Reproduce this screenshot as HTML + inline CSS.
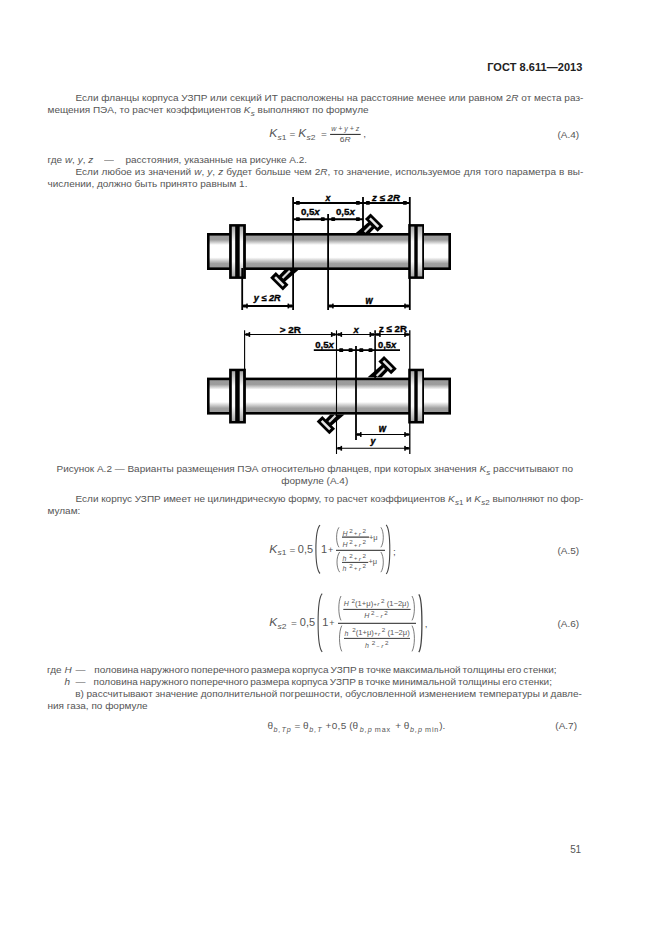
<!DOCTYPE html>
<html><head><meta charset="utf-8"><style>
html,body{margin:0;padding:0;background:#fff;}
body{width:661px;height:935px;position:relative;overflow:hidden;font-family:"Liberation Sans", sans-serif;color:#555;}
.t{position:absolute;white-space:nowrap;}
.d{position:absolute;left:0;top:0;}
sub{font-size:8px;vertical-align:baseline;position:relative;top:2.6px;margin-left:0.3px;}
sup{font-size:7px;vertical-align:baseline;position:relative;top:-4px;}
i{font-style:italic;}
</style></head><body>
<svg class="d" width="661" height="935" viewBox="0 0 661 935" font-family="Liberation Sans, sans-serif"><defs>
<linearGradient id="pg" x1="0" y1="0" x2="0" y2="1">
<stop offset="0" stop-color="#9a9a9a"/><stop offset="0.16" stop-color="#9c9c9c"/>
<stop offset="0.31" stop-color="#ffffff"/><stop offset="0.67" stop-color="#ffffff"/>
<stop offset="0.85" stop-color="#a0a0a0"/><stop offset="1" stop-color="#989898"/>
</linearGradient>
<linearGradient id="fg" x1="0" y1="0" x2="0" y2="1">
<stop offset="0" stop-color="#a8a8a8"/><stop offset="0.3" stop-color="#f8f8f8"/>
<stop offset="0.7" stop-color="#f8f8f8"/><stop offset="1" stop-color="#a8a8a8"/>
</linearGradient>
</defs><rect x="208.3" y="234.30" width="241.4" height="34.4" fill="url(#pg)" stroke="#000" stroke-width="2.6"/>
<rect x="229.10" y="224.10" width="16.80" height="54.80" fill="#000"/>
<rect x="231.80" y="226.60" width="3.40" height="49.80" fill="url(#fg)"/>
<rect x="239.70" y="226.60" width="3.40" height="49.80" fill="url(#fg)"/>
<rect x="408.20" y="224.10" width="15.80" height="54.80" fill="#000"/>
<rect x="410.80" y="226.60" width="3.50" height="49.80" fill="url(#fg)"/>
<rect x="417.70" y="226.60" width="4.50" height="49.80" fill="url(#fg)"/>
<line x1="293.10" y1="197.00" x2="293.10" y2="310.00" stroke="#000" stroke-width="1.8"/>
<line x1="363.00" y1="197.00" x2="363.00" y2="234.00" stroke="#000" stroke-width="1.8"/>
<line x1="328.10" y1="214.00" x2="328.10" y2="310.00" stroke="#000" stroke-width="1.8"/>
<line x1="409.80" y1="197.00" x2="409.80" y2="225.00" stroke="#000" stroke-width="1.8"/>
<line x1="409.80" y1="278.00" x2="409.80" y2="310.00" stroke="#000" stroke-width="1.8"/>
<line x1="242.20" y1="268.00" x2="242.20" y2="310.00" stroke="#000" stroke-width="1.8"/>
<line x1="293.00" y1="202.90" x2="409.80" y2="202.90" stroke="#000" stroke-width="2.0"/>
<line x1="293.00" y1="219.15" x2="363.00" y2="219.15" stroke="#000" stroke-width="2.0"/>
<line x1="242.20" y1="306.00" x2="293.10" y2="306.00" stroke="#000" stroke-width="2.0"/>
<line x1="328.10" y1="306.00" x2="409.80" y2="306.00" stroke="#000" stroke-width="2.0"/>
<rect x="295.90" y="201.00" width="4" height="3.8" rx="0.7" fill="#000"/>
<rect x="355.90" y="201.00" width="4" height="3.8" rx="0.7" fill="#000"/>
<rect x="365.90" y="201.00" width="4" height="3.8" rx="0.7" fill="#000"/>
<rect x="402.90" y="201.00" width="4" height="3.8" rx="0.7" fill="#000"/>
<rect x="295.90" y="217.25" width="4" height="3.8" rx="0.7" fill="#000"/>
<rect x="320.80" y="217.25" width="4" height="3.8" rx="0.7" fill="#000"/>
<rect x="331.20" y="217.25" width="4" height="3.8" rx="0.7" fill="#000"/>
<rect x="355.90" y="217.25" width="4" height="3.8" rx="0.7" fill="#000"/>
<rect x="243.20" y="304.50" width="3.60" height="3.00" fill="#000"/><rect x="246.20" y="303.60" width="1.60" height="4.80" fill="#000"/>
<rect x="288.50" y="304.50" width="3.60" height="3.00" fill="#000"/><rect x="287.50" y="303.60" width="1.60" height="4.80" fill="#000"/>
<rect x="329.10" y="304.50" width="3.60" height="3.00" fill="#000"/><rect x="332.10" y="303.60" width="1.60" height="4.80" fill="#000"/>
<rect x="405.20" y="304.50" width="3.60" height="3.00" fill="#000"/><rect x="404.20" y="303.60" width="1.60" height="4.80" fill="#000"/>
<g transform="translate(363.50,233.20) rotate(-45)">
<polygon points="-5.6,-5.6 11.50,-4.3 11.50,4.3 4.4,4.4" fill="#000"/>
<rect x="11.00" y="-9.00" width="8.00" height="18.00" fill="#000"/>
<rect x="13.75" y="-6" width="2.5" height="12" fill="#e6e6e6"/>
<rect x="1.6" y="-1.05" width="8.80" height="2.1" fill="#d9d9d9"/>
</g>
<g transform="translate(291.00,269.60) rotate(135)">
<polygon points="-5.6,-5.6 13.00,-4.3 13.00,4.3 4.4,4.4" fill="#000"/>
<rect x="12.50" y="-9.00" width="8.00" height="18.00" fill="#000"/>
<rect x="15.25" y="-6" width="2.5" height="12" fill="#e6e6e6"/>
<rect x="1.6" y="-1.05" width="10.30" height="2.1" fill="#d9d9d9"/>
</g>
<text x="325.40" y="200.80" font-size="8.82" transform="translate(0,-5.396) scale(1,1.027)" font-weight="bold" font-style="italic" fill="#000" stroke="#000" stroke-width="0.35">x</text>
<text x="372.05" y="200.90" font-size="9.69" transform="translate(0,16.013) scale(1,0.920)" font-weight="bold" font-style="italic" fill="#000" stroke="#000" stroke-width="0.35">z ≤ 2R</text>
<text x="300.90" y="215.40" font-size="9.67" transform="translate(0,25.873) scale(1,0.880)" font-weight="bold" fill="#000" stroke="#000" stroke-width="0.35">0,5<tspan font-style="italic">x</tspan></text>
<text x="336.00" y="215.40" font-size="9.67" transform="translate(0,25.873) scale(1,0.880)" font-weight="bold" fill="#000" stroke="#000" stroke-width="0.35">0,5<tspan font-style="italic">x</tspan></text>
<text x="253.71" y="301.30" font-size="9.21" transform="translate(0,14.180) scale(1,0.953)" font-weight="bold" font-style="italic" fill="#000" stroke="#000" stroke-width="0.35">y ≤ 2R</text>
<text x="365.40" y="303.50" font-size="9.10" transform="translate(0,-30.593) scale(1,1.101)" font-weight="bold" font-style="italic" fill="#000" stroke="#000" stroke-width="0.35">w</text>
<rect x="208.3" y="378.90" width="241.4" height="34.4" fill="url(#pg)" stroke="#000" stroke-width="2.6"/>
<rect x="229.10" y="368.70" width="16.80" height="54.80" fill="#000"/>
<rect x="231.80" y="371.20" width="3.40" height="49.80" fill="url(#fg)"/>
<rect x="239.70" y="371.20" width="3.40" height="49.80" fill="url(#fg)"/>
<rect x="408.20" y="368.70" width="15.80" height="54.80" fill="#000"/>
<rect x="410.80" y="371.20" width="3.50" height="49.80" fill="url(#fg)"/>
<rect x="417.70" y="371.20" width="4.50" height="49.80" fill="url(#fg)"/>
<line x1="244.60" y1="330.30" x2="244.60" y2="370.00" stroke="#000" stroke-width="1.1"/>
<line x1="336.50" y1="330.30" x2="336.50" y2="454.00" stroke="#000" stroke-width="1.1"/>
<line x1="375.10" y1="330.30" x2="375.10" y2="378.00" stroke="#000" stroke-width="1.6"/>
<line x1="409.80" y1="330.30" x2="409.80" y2="370.00" stroke="#000" stroke-width="1.3"/>
<line x1="409.80" y1="422.00" x2="409.80" y2="454.00" stroke="#000" stroke-width="1.3"/>
<line x1="356.00" y1="346.00" x2="356.00" y2="440.00" stroke="#000" stroke-width="1.8"/>
<line x1="244.60" y1="334.50" x2="409.80" y2="334.50" stroke="#000" stroke-width="1.1"/>
<rect x="245.60" y="333.20" width="3.60" height="2.60" fill="#000"/><rect x="248.60" y="332.10" width="1.60" height="4.80" fill="#000"/>
<rect x="331.90" y="333.20" width="3.60" height="2.60" fill="#000"/><rect x="330.90" y="332.10" width="1.60" height="4.80" fill="#000"/>
<rect x="337.50" y="333.20" width="3.60" height="2.60" fill="#000"/><rect x="340.50" y="332.10" width="1.60" height="4.80" fill="#000"/>
<rect x="370.50" y="333.20" width="3.60" height="2.60" fill="#000"/><rect x="369.50" y="332.10" width="1.60" height="4.80" fill="#000"/>
<rect x="376.10" y="333.20" width="3.60" height="2.60" fill="#000"/><rect x="379.10" y="332.10" width="1.60" height="4.80" fill="#000"/>
<rect x="405.20" y="333.20" width="3.60" height="2.60" fill="#000"/><rect x="404.20" y="332.10" width="1.60" height="4.80" fill="#000"/>
<line x1="313.80" y1="350.20" x2="400.00" y2="350.20" stroke="#000" stroke-width="1.7"/>
<rect x="339.20" y="348.30" width="4" height="3.8" rx="0.7" fill="#000"/>
<rect x="348.60" y="348.30" width="4" height="3.8" rx="0.7" fill="#000"/>
<rect x="359.30" y="348.30" width="4" height="3.8" rx="0.7" fill="#000"/>
<rect x="368.50" y="348.30" width="4" height="3.8" rx="0.7" fill="#000"/>
<line x1="356.00" y1="434.50" x2="409.80" y2="434.50" stroke="#000" stroke-width="1.1"/>
<rect x="357.00" y="433.20" width="3.60" height="2.60" fill="#000"/><rect x="360.00" y="432.10" width="1.60" height="4.80" fill="#000"/>
<rect x="405.20" y="433.20" width="3.60" height="2.60" fill="#000"/><rect x="404.20" y="432.10" width="1.60" height="4.80" fill="#000"/>
<line x1="336.50" y1="448.30" x2="409.80" y2="448.30" stroke="#000" stroke-width="1.1"/>
<rect x="337.50" y="447.00" width="3.60" height="2.60" fill="#000"/><rect x="340.50" y="445.90" width="1.60" height="4.80" fill="#000"/>
<rect x="405.20" y="447.00" width="3.60" height="2.60" fill="#000"/><rect x="404.20" y="445.90" width="1.60" height="4.80" fill="#000"/>
<g transform="translate(375.50,377.20) rotate(-45)">
<polygon points="-5.6,-5.6 13.60,-4.3 13.60,4.3 4.4,4.4" fill="#000"/>
<rect x="13.10" y="-9.00" width="8.00" height="18.00" fill="#000"/>
<rect x="15.85" y="-6" width="2.5" height="12" fill="#e6e6e6"/>
<rect x="1.6" y="-1.05" width="10.90" height="2.1" fill="#d9d9d9"/>
</g>
<g transform="translate(336.60,414.40) rotate(135)">
<polygon points="-5.6,-5.6 11.70,-4.3 11.70,4.3 4.4,4.4" fill="#000"/>
<rect x="11.20" y="-9.00" width="8.00" height="18.00" fill="#000"/>
<rect x="13.95" y="-6" width="2.5" height="12" fill="#e6e6e6"/>
<rect x="1.6" y="-1.05" width="9.00" height="2.1" fill="#d9d9d9"/>
</g>
<text x="279.80" y="332.70" font-size="9.91" transform="translate(0,14.828) scale(1,0.955)" font-weight="bold" fill="#000" stroke="#000" stroke-width="0.35">&gt; 2R</text>
<text x="353.43" y="332.70" font-size="9.45" transform="translate(0,7.051) scale(1,0.979)" font-weight="bold" font-style="italic" fill="#000" stroke="#000" stroke-width="0.35">x</text>
<text x="379.00" y="332.30" font-size="9.71" transform="translate(0,8.229) scale(1,0.975)" font-weight="bold" fill="#000" stroke="#000" stroke-width="0.35">z ≤ 2R</text>
<text x="315.20" y="347.90" font-size="9.56" transform="translate(0,8.554) scale(1,0.975)" font-weight="bold" fill="#000" stroke="#000" stroke-width="0.35">0,5<tspan font-style="italic">x</tspan></text>
<text x="378.00" y="347.90" font-size="9.36" transform="translate(0,1.096) scale(1,0.997)" font-weight="bold" fill="#000" stroke="#000" stroke-width="0.35">0,5<tspan font-style="italic">x</tspan></text>
<text x="378.70" y="431.60" font-size="9.34" transform="translate(0,-93.640) scale(1,1.217)" font-weight="bold" font-style="italic" fill="#000" stroke="#000" stroke-width="0.35">w</text>
<text x="370.50" y="444.50" font-size="8.99" transform="translate(0,-3.145) scale(1,1.007)" font-weight="bold" font-style="italic" fill="#000" stroke="#000" stroke-width="0.35">y</text></svg><svg class="d" width="661" height="935" viewBox="0 0 661 935" font-family="Liberation Sans, sans-serif" fill="#555"><text x="269.30" y="136.70" font-size="12" text-anchor="start" transform="translate(0,10.936) scale(1,0.92)" font-style="italic">K</text>
<text x="277.60" y="139.90" font-size="8.5" text-anchor="start" transform="translate(0,11.192) scale(1,0.92)" ><tspan font-style="italic">s</tspan>1</text>
<text x="289.60" y="136.70" font-size="10" text-anchor="start" transform="translate(0,10.936) scale(1,0.92)" >=</text>
<text x="298.20" y="136.70" font-size="12" text-anchor="start" transform="translate(0,10.936) scale(1,0.92)" font-style="italic">K</text>
<text x="306.60" y="139.90" font-size="8.5" text-anchor="start" transform="translate(0,11.192) scale(1,0.92)" ><tspan font-style="italic">s</tspan>2</text>
<text x="320.90" y="136.70" font-size="10" text-anchor="start" transform="translate(0,10.936) scale(1,0.92)" >=</text>
<line x1="330.10" y1="134.40" x2="360.70" y2="134.40" stroke="#222" stroke-width="1.0"/>
<text x="331.20" y="131.20" font-size="7" text-anchor="start" transform="translate(0,10.496) scale(1,0.92)" font-style="italic">w + y + z</text>
<text x="339.80" y="142.00" font-size="8.5" text-anchor="start" transform="translate(0,11.360) scale(1,0.92)" >6<tspan font-style="italic">R</tspan></text>
<text x="363.20" y="136.60" font-size="10" text-anchor="start" transform="translate(0,10.928) scale(1,0.92)" >,</text>
<text x="269.30" y="553.20" font-size="12" text-anchor="start" transform="translate(0,44.256) scale(1,0.92)" font-style="italic">K</text>
<text x="277.40" y="555.40" font-size="8.5" text-anchor="start" transform="translate(0,44.432) scale(1,0.92)" ><tspan font-style="italic">s</tspan>1</text>
<text x="289.40" y="553.20" font-size="10" text-anchor="start" transform="translate(0,44.256) scale(1,0.92)" >=</text>
<text x="297.80" y="553.20" font-size="11" text-anchor="start" transform="translate(0,44.256) scale(1,0.92)" >0,5</text>
<path d="M320.00,525.20 C314.53,531.00 314.53,567.70 320.00,573.50" fill="none" stroke="#444" stroke-width="1.1"/>
<text x="320.90" y="553.20" font-size="11" text-anchor="start" transform="translate(0,44.256) scale(1,0.92)" >1</text>
<text x="328.00" y="552.60" font-size="9" text-anchor="start" transform="translate(0,44.208) scale(1,0.92)" >+</text>
<line x1="336.00" y1="550.30" x2="385.00" y2="550.30" stroke="#222" stroke-width="1.0"/>
<path d="M339.00,527.30 C335.80,531.70 335.80,542.90 339.00,547.30" fill="none" stroke="#444" stroke-width="0.7"/>
<path d="M380.90,527.30 C384.10,531.70 384.10,542.90 380.90,547.30" fill="none" stroke="#444" stroke-width="0.7"/>
<line x1="342.00" y1="537.10" x2="369.10" y2="537.10" stroke="#222" stroke-width="1.1"/>
<text x="342.40" y="536.00" font-size="7" text-anchor="start" transform="translate(0,42.880) scale(1,0.92)" font-style="italic">H</text>
<text x="349.20" y="532.70" font-size="6.3" text-anchor="start" transform="translate(0,42.616) scale(1,0.92)" >2</text>
<text x="353.90" y="535.40" font-size="5.5" text-anchor="start" transform="translate(0,42.832) scale(1,0.92)" >+</text>
<text x="358.70" y="536.00" font-size="6.8" text-anchor="start" transform="translate(0,42.880) scale(1,0.92)" font-style="italic">r</text>
<text x="362.50" y="532.70" font-size="6.3" text-anchor="start" transform="translate(0,42.616) scale(1,0.92)" >2</text>
<text x="342.40" y="547.50" font-size="7" text-anchor="start" transform="translate(0,43.800) scale(1,0.92)" font-style="italic">H</text>
<text x="349.20" y="544.20" font-size="6.3" text-anchor="start" transform="translate(0,43.536) scale(1,0.92)" >2</text>
<text x="353.90" y="546.90" font-size="5.5" text-anchor="start" transform="translate(0,43.752) scale(1,0.92)" >+</text>
<text x="358.70" y="547.50" font-size="6.8" text-anchor="start" transform="translate(0,43.800) scale(1,0.92)" font-style="italic">r</text>
<text x="362.50" y="544.20" font-size="6.3" text-anchor="start" transform="translate(0,43.536) scale(1,0.92)" >2</text>
<text x="369.00" y="540.40" font-size="7.5" text-anchor="start" transform="translate(0,43.232) scale(1,0.92)" >+μ</text>
<path d="M339.70,552.00 C336.10,556.44 336.10,567.76 339.70,572.20" fill="none" stroke="#444" stroke-width="0.7"/>
<path d="M380.90,552.00 C384.10,556.44 384.10,567.76 380.90,572.20" fill="none" stroke="#444" stroke-width="0.7"/>
<line x1="342.00" y1="562.40" x2="368.20" y2="562.40" stroke="#222" stroke-width="0.9"/>
<text x="342.40" y="560.90" font-size="7" text-anchor="start" transform="translate(0,44.872) scale(1,0.92)" font-style="italic">h</text>
<text x="349.20" y="557.60" font-size="6.3" text-anchor="start" transform="translate(0,44.608) scale(1,0.92)" >2</text>
<text x="353.90" y="560.30" font-size="5.5" text-anchor="start" transform="translate(0,44.824) scale(1,0.92)" >+</text>
<text x="358.70" y="560.90" font-size="6.8" text-anchor="start" transform="translate(0,44.872) scale(1,0.92)" font-style="italic">r</text>
<text x="362.50" y="557.60" font-size="6.3" text-anchor="start" transform="translate(0,44.608) scale(1,0.92)" >2</text>
<text x="342.40" y="571.10" font-size="7" text-anchor="start" transform="translate(0,45.688) scale(1,0.92)" font-style="italic">h</text>
<text x="349.20" y="567.80" font-size="6.3" text-anchor="start" transform="translate(0,45.424) scale(1,0.92)" >2</text>
<text x="353.90" y="570.50" font-size="5.5" text-anchor="start" transform="translate(0,45.640) scale(1,0.92)" >+</text>
<text x="358.70" y="571.10" font-size="6.8" text-anchor="start" transform="translate(0,45.688) scale(1,0.92)" font-style="italic">r</text>
<text x="362.50" y="567.80" font-size="6.3" text-anchor="start" transform="translate(0,45.424) scale(1,0.92)" >2</text>
<text x="368.50" y="564.50" font-size="7.5" text-anchor="start" transform="translate(0,45.160) scale(1,0.92)" >+μ</text>
<path d="M386.20,524.80 C391.00,530.70 391.00,568.10 386.20,574.00" fill="none" stroke="#444" stroke-width="1.1"/>
<text x="393.00" y="554.80" font-size="10" text-anchor="start" transform="translate(0,44.384) scale(1,0.92)" >;</text>
<text x="269.30" y="626.20" font-size="12" text-anchor="start" transform="translate(0,50.096) scale(1,0.92)" font-style="italic">K</text>
<text x="277.40" y="628.60" font-size="8.5" text-anchor="start" transform="translate(0,50.288) scale(1,0.92)" ><tspan font-style="italic">s</tspan>2</text>
<text x="291.00" y="626.20" font-size="10" text-anchor="start" transform="translate(0,50.096) scale(1,0.92)" >=</text>
<text x="299.80" y="626.20" font-size="11" text-anchor="start" transform="translate(0,50.096) scale(1,0.92)" >0,5</text>
<path d="M322.20,593.60 C316.73,599.42 316.73,645.98 322.20,651.80" fill="none" stroke="#444" stroke-width="1.1"/>
<text x="322.20" y="626.20" font-size="11" text-anchor="start" transform="translate(0,50.096) scale(1,0.92)" >1</text>
<text x="329.20" y="625.60" font-size="9" text-anchor="start" transform="translate(0,50.048) scale(1,0.92)" >+</text>
<line x1="338.00" y1="623.30" x2="416.00" y2="623.30" stroke="#222" stroke-width="1.0"/>
<path d="M341.00,596.00 C338.07,601.37 338.07,615.03 341.00,620.40" fill="none" stroke="#444" stroke-width="0.7"/>
<path d="M412.00,596.00 C415.20,601.37 415.20,615.03 412.00,620.40" fill="none" stroke="#444" stroke-width="0.7"/>
<line x1="343.30" y1="609.40" x2="410.60" y2="609.40" stroke="#222" stroke-width="0.9"/>
<text x="343.80" y="606.20" font-size="7" text-anchor="start" transform="translate(0,48.496) scale(1,0.92)" font-style="italic">H</text>
<text x="351.50" y="602.90" font-size="6.3" text-anchor="start" transform="translate(0,48.232) scale(1,0.92)" >2</text>
<text x="355.10" y="605.90" font-size="7.6" text-anchor="start" transform="translate(0,48.472) scale(1,0.92)" >(1+μ)</text>
<text x="373.50" y="605.60" font-size="5.5" text-anchor="start" transform="translate(0,48.448) scale(1,0.92)" >+</text>
<text x="377.30" y="606.20" font-size="6.8" text-anchor="start" transform="translate(0,48.496) scale(1,0.92)" font-style="italic">r</text>
<text x="381.10" y="602.90" font-size="6.3" text-anchor="start" transform="translate(0,48.232) scale(1,0.92)" >2</text>
<text x="386.70" y="605.90" font-size="7.6" text-anchor="start" transform="translate(0,48.472) scale(1,0.92)" >(1−2μ)</text>
<text x="364.20" y="618.30" font-size="7" text-anchor="start" transform="translate(0,49.464) scale(1,0.92)" font-style="italic">H</text>
<text x="371.00" y="615.00" font-size="6.3" text-anchor="start" transform="translate(0,49.200) scale(1,0.92)" >2</text>
<text x="375.70" y="617.70" font-size="5.5" text-anchor="start" transform="translate(0,49.416) scale(1,0.92)" >−</text>
<text x="380.50" y="618.30" font-size="6.8" text-anchor="start" transform="translate(0,49.464) scale(1,0.92)" font-style="italic">r</text>
<text x="384.30" y="615.00" font-size="6.3" text-anchor="start" transform="translate(0,49.200) scale(1,0.92)" >2</text>
<path d="M341.80,625.60 C338.73,631.28 338.73,645.72 341.80,651.40" fill="none" stroke="#444" stroke-width="0.7"/>
<path d="M412.00,625.60 C415.20,631.28 415.20,645.72 412.00,651.40" fill="none" stroke="#444" stroke-width="0.7"/>
<line x1="344.00" y1="638.40" x2="410.00" y2="638.40" stroke="#222" stroke-width="0.9"/>
<text x="344.50" y="635.70" font-size="7" text-anchor="start" transform="translate(0,50.856) scale(1,0.92)" font-style="italic">h</text>
<text x="352.20" y="632.40" font-size="6.3" text-anchor="start" transform="translate(0,50.592) scale(1,0.92)" >2</text>
<text x="355.80" y="635.40" font-size="7.6" text-anchor="start" transform="translate(0,50.832) scale(1,0.92)" >(1+μ)</text>
<text x="374.20" y="635.10" font-size="5.5" text-anchor="start" transform="translate(0,50.808) scale(1,0.92)" >+</text>
<text x="378.00" y="635.70" font-size="6.8" text-anchor="start" transform="translate(0,50.856) scale(1,0.92)" font-style="italic">r</text>
<text x="381.80" y="632.40" font-size="6.3" text-anchor="start" transform="translate(0,50.592) scale(1,0.92)" >2</text>
<text x="387.40" y="635.40" font-size="7.6" text-anchor="start" transform="translate(0,50.832) scale(1,0.92)" >(1−2μ)</text>
<text x="365.00" y="648.50" font-size="7" text-anchor="start" transform="translate(0,51.880) scale(1,0.92)" font-style="italic">h</text>
<text x="371.80" y="645.20" font-size="6.3" text-anchor="start" transform="translate(0,51.616) scale(1,0.92)" >2</text>
<text x="376.50" y="647.90" font-size="5.5" text-anchor="start" transform="translate(0,51.832) scale(1,0.92)" >−</text>
<text x="381.30" y="648.50" font-size="6.8" text-anchor="start" transform="translate(0,51.880) scale(1,0.92)" font-style="italic">r</text>
<text x="385.10" y="645.20" font-size="6.3" text-anchor="start" transform="translate(0,51.616) scale(1,0.92)" >2</text>
<path d="M418.80,594.40 C422.93,600.18 422.93,646.42 418.80,652.20" fill="none" stroke="#444" stroke-width="1.3"/>
<text x="424.80" y="627.00" font-size="10" text-anchor="start" transform="translate(0,50.160) scale(1,0.92)" >,</text>
<text x="267.40" y="729.00" font-size="10" text-anchor="start" transform="translate(0,58.320) scale(1,0.92)" >θ</text>
<text x="273.40" y="732.00" font-size="7.2" text-anchor="start" transform="translate(0,58.560) scale(1,0.92)" letter-spacing="1.0" font-style="italic">b,Tp</text>
<text x="294.60" y="729.00" font-size="10" text-anchor="start" transform="translate(0,58.320) scale(1,0.92)" >=</text>
<text x="303.10" y="729.00" font-size="10" text-anchor="start" transform="translate(0,58.320) scale(1,0.92)" >θ</text>
<text x="309.30" y="732.00" font-size="7.2" text-anchor="start" transform="translate(0,58.560) scale(1,0.92)" letter-spacing="1.0" font-style="italic">b,T</text>
<text x="325.60" y="729.00" font-size="10" text-anchor="start" transform="translate(0,58.320) scale(1,0.92)" letter-spacing="0.3" >+0,5</text>
<text x="349.30" y="729.00" font-size="10" text-anchor="start" transform="translate(0,58.320) scale(1,0.92)" >(θ</text>
<text x="359.80" y="732.40" font-size="7.2" text-anchor="start" transform="translate(0,58.592) scale(1,0.92)" letter-spacing="1.0" font-style="italic">b,p</text>
<text x="374.80" y="732.40" font-size="7.2" text-anchor="start" transform="translate(0,58.592) scale(1,0.92)" letter-spacing="0.9" >max</text>
<text x="395.20" y="729.00" font-size="10" text-anchor="start" transform="translate(0,58.320) scale(1,0.92)" >+</text>
<text x="403.80" y="729.00" font-size="10" text-anchor="start" transform="translate(0,58.320) scale(1,0.92)" >θ</text>
<text x="410.00" y="732.40" font-size="7.2" text-anchor="start" transform="translate(0,58.592) scale(1,0.92)" letter-spacing="1.0" font-style="italic">b,p</text>
<text x="425.00" y="732.40" font-size="7.2" text-anchor="start" transform="translate(0,58.592) scale(1,0.92)" letter-spacing="0.9" >min</text>
<text x="439.20" y="729.00" font-size="10" text-anchor="start" transform="translate(0,58.320) scale(1,0.92)" >).</text></svg>
<div class="t" id="L0" style="left:487.20px;top:61.39px;font-size:11px;line-height:12px;font-weight:bold;transform:scaleY(0.95);transform-origin:0 9.81px;color:#222;letter-spacing:0.05px;">ГОСТ 8.611—2013</div>
<div class="t" id="L1" style="left:75.50px;top:92.03px;font-size:10px;line-height:12px;font-weight:normal;transform:scaleY(0.95);transform-origin:0 9.46px;word-spacing:0.045px;">Если фланцы корпуса УЗПР или секций ИТ расположены на расстояние менее или равном 2<i>R</i> от места раз-</div>
<div class="t" id="L2" style="left:47.50px;top:103.73px;font-size:10px;line-height:12px;font-weight:normal;transform:scaleY(0.95);transform-origin:0 9.46px;">мещения ПЭА, то расчет коэффициентов <i>K</i><sub><i>s</i></sub> выполняют по формуле</div>
<div class="t" id="L3" style="left:47.50px;top:154.03px;font-size:10px;line-height:12px;font-weight:normal;transform:scaleY(0.95);transform-origin:0 9.46px;">где <i>w</i>, <i>y</i>, <i>z</i></div>
<div class="t" id="L4" style="left:104.00px;top:154.03px;font-size:10px;line-height:12px;font-weight:normal;transform:scaleY(0.95);transform-origin:0 9.46px;">—</div>
<div class="t" id="L5" style="left:125.50px;top:154.03px;font-size:10px;line-height:12px;font-weight:normal;transform:scaleY(0.95);transform-origin:0 9.46px;">расстояния, указанные на рисунке А.2.</div>
<div class="t" id="L6" style="left:75.50px;top:165.94px;font-size:10px;line-height:12px;font-weight:normal;transform:scaleY(0.95);transform-origin:0 9.46px;word-spacing:0.323px;">Если любое из значений <i>w</i>, <i>y</i>, <i>z</i> будет больше чем 2<i>R</i>, то значение, используемое для того параметра в вы-</div>
<div class="t" id="L7" style="left:47.50px;top:177.64px;font-size:10px;line-height:12px;font-weight:normal;transform:scaleY(0.95);transform-origin:0 9.46px;">числении, должно быть принято равным 1.</div>
<div class="t" id="L8" style="left:56.50px;top:463.14px;font-size:10px;line-height:12px;font-weight:normal;transform:scaleY(0.95);transform-origin:0 9.46px;word-spacing:-0.041px;">Рисунок А.2 — Варианты размещения ПЭА относительно фланцев, при которых значения <i>K</i><sub><i>s</i></sub> рассчитывают по</div>
<div class="t" id="L9" style="left:281.30px;top:474.94px;font-size:10px;line-height:12px;font-weight:normal;transform:scaleY(0.95);transform-origin:0 9.46px;">формуле (А.4)</div>
<div class="t" id="L10" style="left:75.50px;top:492.94px;font-size:10px;line-height:12px;font-weight:normal;transform:scaleY(0.95);transform-origin:0 9.46px;word-spacing:-0.122px;">Если корпус УЗПР имеет не цилиндрическую форму, то расчет коэффициентов <i>K</i><sub><i>s</i>1</sub> и <i>K</i><sub><i>s</i>2</sub> выполняют по фор-</div>
<div class="t" id="L11" style="left:47.50px;top:504.54px;font-size:10px;line-height:12px;font-weight:normal;transform:scaleY(0.95);transform-origin:0 9.46px;">мулам:</div>
<div class="t" id="L12" style="left:47.00px;top:663.83px;font-size:10px;line-height:12px;font-weight:normal;transform:scaleY(0.95);transform-origin:0 9.46px;">где <i>H</i></div>
<div class="t" id="L13" style="left:75.60px;top:663.83px;font-size:10px;line-height:12px;font-weight:normal;transform:scaleY(0.95);transform-origin:0 9.46px;">—</div>
<div class="t" id="L14" style="left:94.30px;top:663.83px;font-size:10px;line-height:12px;font-weight:normal;transform:scaleY(0.95);transform-origin:0 9.46px;word-spacing:-0.788px;">половина наружного поперечного размера корпуса УЗПР в точке максимальной толщины его стенки;</div>
<div class="t" id="L15" style="left:64.50px;top:675.93px;font-size:10px;line-height:12px;font-weight:normal;transform:scaleY(0.95);transform-origin:0 9.46px;"><i>h</i></div>
<div class="t" id="L16" style="left:75.60px;top:675.93px;font-size:10px;line-height:12px;font-weight:normal;transform:scaleY(0.95);transform-origin:0 9.46px;">—</div>
<div class="t" id="L17" style="left:93.60px;top:675.93px;font-size:10px;line-height:12px;font-weight:normal;transform:scaleY(0.95);transform-origin:0 9.46px;word-spacing:-0.785px;">половина наружного поперечного размера корпуса УЗПР в точке минимальной толщины его стенки;</div>
<div class="t" id="L18" style="left:75.30px;top:687.83px;font-size:10px;line-height:12px;font-weight:normal;transform:scaleY(0.95);transform-origin:0 9.46px;word-spacing:-0.203px;">в) рассчитывают значение дополнительной погрешности, обусловленной изменением температуры и давле-</div>
<div class="t" id="L19" style="left:47.50px;top:700.23px;font-size:10px;line-height:12px;font-weight:normal;transform:scaleY(0.95);transform-origin:0 9.46px;">ния газа, по формуле</div>
<div class="t" id="L20" style="left:557.50px;top:128.74px;font-size:10px;line-height:12px;font-weight:normal;transform:scaleY(0.95);transform-origin:0 9.46px;">(А.4)</div>
<div class="t" id="L21" style="left:557.50px;top:545.13px;font-size:10px;line-height:12px;font-weight:normal;transform:scaleY(0.95);transform-origin:0 9.46px;">(А.5)</div>
<div class="t" id="L22" style="left:557.50px;top:617.53px;font-size:10px;line-height:12px;font-weight:normal;transform:scaleY(0.95);transform-origin:0 9.46px;">(А.6)</div>
<div class="t" id="L23" style="left:555.30px;top:720.33px;font-size:10px;line-height:12px;font-weight:normal;transform:scaleY(0.95);transform-origin:0 9.46px;">(А.7)</div>
<div class="t" id="L24" style="left:570.30px;top:843.73px;font-size:10px;line-height:12px;font-weight:normal;transform:scaleY(0.95);transform-origin:0 9.46px;transform:none;letter-spacing:-0.4px;">51</div>
</body></html>
